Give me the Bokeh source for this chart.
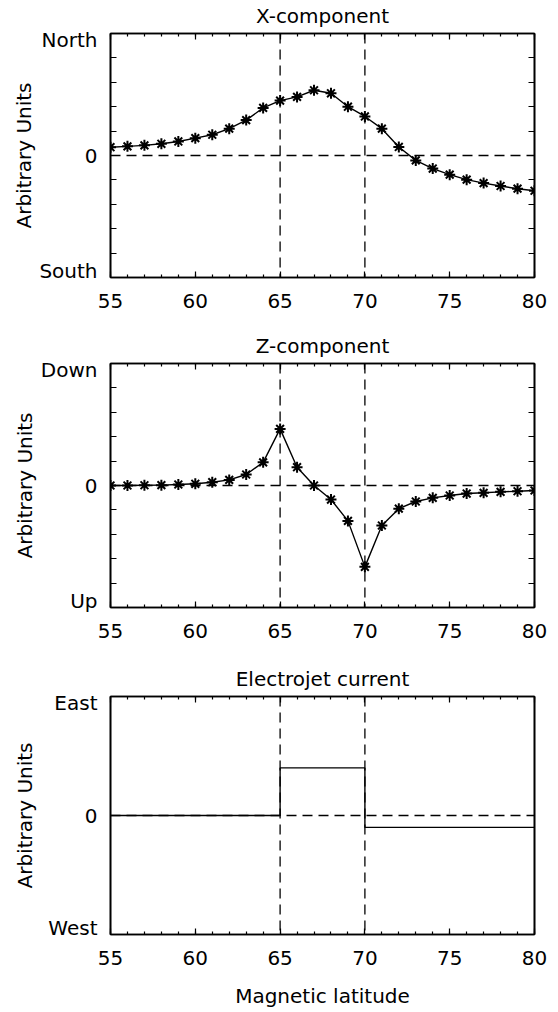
from bokeh.plotting import figure
from bokeh.models import (Range1d, LinearAxis, FixedTicker, SingleIntervalTicker, Span,
                          CustomLabelingPolicy)
from bokeh.layouts import column
from bokeh.embed import file_html
from bokeh.resources import INLINE

# ---------------- data ----------------
latitude = list(range(55, 81))
x_component = [0.068, 0.075, 0.083, 0.096, 0.115, 0.142, 0.170, 0.220, 0.290, 0.390,
               0.450, 0.480, 0.535, 0.510, 0.400, 0.320, 0.220, 0.070, -0.040, -0.107,
               -0.157, -0.198, -0.226, -0.250, -0.272, -0.289]
z_component = [0.000, 0.000, 0.002, 0.003, 0.008, 0.014, 0.027, 0.046, 0.090, 0.190,
               0.464, 0.150, 0.000, -0.115, -0.290, -0.667, -0.328, -0.190, -0.131, -0.101,
               -0.082, -0.066, -0.060, -0.052, -0.047, -0.041]
jet_edges = [55, 65, 70, 80]
jet_current = [0.0, 0.40, -0.10, -0.10]
boundaries = [65, 70]

panel_titles = ["X-component", "Z-component", "Electrojet current"]
y_low_labels = ["South", "Up", "West"]
y_high_labels = ["North", "Down", "East"]
y_axis_title = "Arbitrary Units"
x_axis_title = "Magnetic latitude"
y_minor_values = [-0.8, -0.6, -0.4, -0.2, 0.0, 0.2, 0.4, 0.6, 0.8]

FONT = "DejaVu Sans"
FS = "20px"
LW_AX = 1.6
LABEL_INSET = 0.946   # IDL draws the end labels slightly inside the frame

hide_labels = CustomLabelingPolicy(code="for (const i of indices) indices.unset(i); return indices")


def style_axis(ax):
    ax.axis_line_width = LW_AX
    ax.axis_line_color = "black"
    ax.major_tick_line_color = "black"
    ax.minor_tick_line_color = "black"
    ax.major_tick_line_width = 1.2
    ax.minor_tick_line_width = 1.2
    ax.major_tick_out = 0
    ax.minor_tick_out = 0
    ax.major_label_text_font = FONT
    ax.major_label_text_font_size = FS
    ax.major_label_text_color = "black"
    ax.axis_label_text_font = FONT
    ax.axis_label_text_font_size = FS
    ax.axis_label_text_font_style = "normal"
    ax.axis_label_text_color = "black"


def make_panel(idx, height, border_top, border_bottom, ylabel_standoff, show_xlabel, y_ticks):
    p = figure(width=550, height=height, title=None,
               x_range=Range1d(55, 80), y_range=Range1d(-1, 1),
               output_backend="svg", toolbar_location=None,
               x_axis_type=None, y_axis_type=None,
               min_border_left=110, min_border_right=16,
               min_border_top=border_top, min_border_bottom=border_bottom)
    p.outline_line_color = "black"
    p.outline_line_width = LW_AX
    p.background_fill_color = "white"
    p.border_fill_color = "white"

    # x axes (bottom with labels, top mirrored and carrying the panel title)
    for loc in ("below", "above"):
        ax = LinearAxis(ticker=SingleIntervalTicker(interval=5, num_minor_ticks=5))
        style_axis(ax)
        ax.major_tick_in = 6
        ax.minor_tick_in = 3
        if loc == "below":
            ax.major_label_standoff = 16
            if show_xlabel:
                ax.axis_label = x_axis_title
                ax.axis_label_standoff = 16
        else:
            ax.major_label_text_font_size = "1px"
            ax.major_label_standoff = 0
            ax.major_label_policy = hide_labels
            ax.axis_label = panel_titles[idx]
            ax.axis_label_standoff = 2
        p.add_layout(ax, loc)

    # y axes (left with labels, right mirrored)
    for loc in ("left", "right"):
        minor = y_minor_values if y_ticks else []
        ax = LinearAxis(ticker=FixedTicker(ticks=[-LABEL_INSET, 0, LABEL_INSET], minor_ticks=minor))
        style_axis(ax)
        ax.major_tick_in = 0
        ax.minor_tick_in = 6 if y_ticks else 0
        if loc == "left":
            ax.major_label_overrides = {-LABEL_INSET: y_low_labels[idx], 0: "0",
                                        LABEL_INSET: y_high_labels[idx]}
            ax.major_label_standoff = 13
            ax.axis_label = y_axis_title
            ax.axis_label_standoff = ylabel_standoff
        else:
            ax.major_label_text_font_size = "1px"
            ax.major_label_standoff = 0
            ax.major_label_policy = hide_labels
        p.add_layout(ax, loc)

    for b in boundaries:
        p.add_layout(Span(location=b, dimension="height", line_color="black",
                          line_width=1.3, line_dash="10 6"))
    p.add_layout(Span(location=0, dimension="width", line_color="black",
                      line_width=1.3, line_dash="10 6"))
    return p


p1 = make_panel(0, 330, 33, 53, 0, False, True)
p1.line(latitude, x_component, line_color="black", line_width=1.4)
p1.scatter(latitude, x_component, marker="asterisk", size=11, line_color="black", line_width=2)

p2 = make_panel(1, 333, 33, 56, 1, False, True)
p2.line(latitude, z_component, line_color="black", line_width=1.4)
p2.scatter(latitude, z_component, marker="asterisk", size=11, line_color="black", line_width=2)

p3 = make_panel(2, 347, 33, 70, 8, True, False)
p3.step(jet_edges, jet_current, mode="after", line_color="black", line_width=1.4)

layout = column(p1, p2, p3, spacing=0)
open("out.html", "w").write(file_html(layout, INLINE))
